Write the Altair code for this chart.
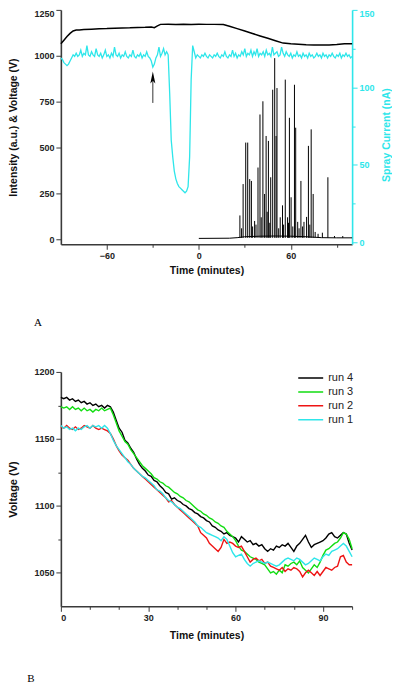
import altair as alt
import pandas as pd

# ---------------- Panel A data ----------------
volt_a_t = [-90, -88, -86, -84, -82, -80, -78, -75, -70, -65, -60, -55, -50, -45, -40,
            -35, -31, -29, -27, -25, -20, -15, -10, -5, 0, 5, 10, 16, 20, 25, 30, 35,
            40, 45, 50, 55, 60, 65, 70, 75, 80, 85, 90, 95, 100]
volt_a_v = [1065, 1085, 1105, 1122, 1135, 1140, 1141, 1143, 1145, 1147, 1148, 1150, 1151, 1152, 1154,
            1155, 1157, 1153, 1163, 1171, 1172, 1171, 1172, 1171, 1172, 1171, 1171, 1170, 1161, 1148, 1135, 1121,
            1108, 1095, 1082, 1069, 1065, 1063, 1060, 1059, 1058, 1059, 1061, 1065, 1066]

cur_start = -90
cur_nA = [
    119, 118, 116, 115, 114, 115, 117, 119, 121, 120,
    122, 120, 121, 124, 120, 122, 121, 127, 121, 120,
    123, 121, 120, 125, 121, 120, 122, 119, 121, 124,
    120, 121, 119, 122, 120, 126, 121, 120, 122, 119,
    121, 120, 123, 120, 119, 121, 120, 124, 120, 119,
    121, 120, 122, 119, 121, 120, 123, 120, 119, 117,
    113, 115, 119, 121, 126, 120, 122, 125, 121, 123,
    121, 96, 66, 55, 46, 41, 38, 36, 35, 34,
    33, 32, 33, 36, 55, 105, 127, 123, 119, 121,
    120, 119, 121, 120, 122, 120, 119, 121, 120, 119,
    121, 120, 122, 120, 119, 121, 120, 123, 120, 119,
    121, 120, 124, 120, 122, 119, 121, 120, 123, 121,
    125, 120, 122, 121, 124, 120, 123, 121, 125, 120,
    122, 121, 123, 120, 124, 121, 122, 120, 126, 121,
    122, 123, 120, 121, 126, 122, 120, 123, 121, 120,
    122, 119, 121, 120, 123, 120, 121, 119, 122, 120,
    121, 119, 122, 120, 121, 119, 120, 122, 120, 121,
    119, 122, 120, 121, 119, 121, 120, 122, 120, 119,
    121, 120, 122, 119, 121, 120, 122, 120, 121, 119,
    120,
]
cur_t = list(range(cur_start, cur_start + len(cur_nA)))

spike_t = [26.8, 27.9, 28.9, 30.6, 31.9, 33.2, 34.3, 35.1, 36.4, 37.3, 38.6, 39.9, 40.7,
           41.8, 42.9, 43.9, 44.6, 45.4, 46.3, 46.9, 48.2, 49.5, 50.4, 51.0, 52.1, 53.1,
           54.6, 55.3, 56.4, 57.9, 58.5, 59.1, 60.2, 61.3, 62.4, 63.2, 64.5, 65.4, 66.6,
           67.7, 68.6, 70.3, 71.5, 72.4, 73.3, 74.6, 75.9, 77.8, 80.6, 84.2, 88.5, 93.9]
spike_h = [130, 60, 301, 527, 527, 328, 318, 70, 100, 80, 391, 680, 120,
           752, 247, 563, 150, 536, 90, 338, 815, 987, 563, 824, 60, 120,
           185, 80, 870, 120, 90, 662, 229, 70, 842, 608, 95, 60, 318,
           70, 95, 122, 509, 80, 599, 247, 40, 30, 36, 338, 18, 18]
spike_base = 8

base_t = [0, 20, 25, 30, 40, 50, 60, 70, 76, 80, 90, 100]
base_v = [5, 6, 9, 14, 17, 18, 17, 14, 11, 9, 8, 8]

arrow_t = [-30]
arrow_from = [743]
arrow_to = [882]

# ---------------- Panel B data ----------------
run_names = ["run 4", "run 3", "run 2", "run 1"]
run_colors = ["#000000", "#11DD11", "#EE1414", "#2EE6EA"]
run_t0 = 0
run4 = [1181, 1180, 1181, 1179, 1180, 1178, 1179, 1177, 1178, 1176,
        1177, 1175, 1176, 1174, 1175, 1173, 1175, 1174, 1170, 1164,
        1158, 1155, 1149, 1147, 1143, 1140, 1135, 1131, 1128, 1126,
        1123, 1122, 1119, 1118, 1115, 1113, 1110, 1109, 1105, 1106,
        1104, 1103, 1101, 1100, 1098, 1097, 1095, 1094, 1092, 1091,
        1089, 1088, 1085, 1084, 1082, 1081, 1079, 1080, 1078, 1077,
        1076, 1073, 1077, 1075, 1073, 1074, 1071, 1072, 1070, 1071,
        1068, 1066, 1068, 1067, 1070, 1069, 1071, 1070, 1072, 1069,
        1066, 1070, 1072, 1075, 1078, 1073, 1069, 1071, 1072, 1073,
        1074, 1076, 1079, 1080, 1077, 1076, 1078, 1080, 1079, 1072,
        1067]
run3 = [1174, 1173, 1174, 1172, 1174, 1172, 1173, 1171, 1173, 1171,
        1172, 1170, 1172, 1171, 1173, 1171, 1172, 1173, 1168, 1162,
        1156, 1152, 1148, 1146, 1142, 1139, 1136, 1133, 1130, 1128,
        1126, 1124, 1121, 1120, 1118, 1117, 1115, 1114, 1112, 1110,
        1109, 1107, 1106, 1104, 1103, 1101, 1099, 1097, 1096, 1094,
        1093, 1091, 1090, 1088, 1087, 1085, 1084, 1081, 1079, 1077,
        1074, 1070, 1067, 1066, 1064, 1062, 1061, 1060, 1058, 1057,
        1056, 1053, 1050, 1051, 1049, 1052, 1050, 1056, 1055, 1057,
        1058, 1056, 1059, 1054, 1052, 1050, 1053, 1056, 1054, 1058,
        1063, 1067, 1068, 1070, 1072, 1073, 1076, 1080, 1079, 1075,
        1068]
run2 = [1159, 1158, 1160, 1158, 1157, 1159, 1157, 1158, 1160, 1159,
        1158, 1160, 1158, 1157, 1158, 1157, 1156, 1154, 1150, 1145,
        1141, 1138, 1136, 1134, 1131, 1128, 1126, 1124, 1122, 1120,
        1118, 1116, 1114, 1112, 1110, 1108, 1106, 1103, 1104, 1101,
        1099, 1097, 1095, 1093, 1091, 1089, 1087, 1085, 1080, 1078,
        1076, 1072, 1070, 1068, 1066, 1069, 1075, 1072, 1073, 1072,
        1070, 1069, 1070, 1066, 1062, 1058, 1060, 1061, 1059, 1060,
        1057, 1058, 1055, 1054, 1053, 1052, 1054, 1051, 1053, 1052,
        1054, 1053, 1051, 1047, 1050, 1052, 1050, 1048, 1051, 1048,
        1051, 1054, 1053, 1052, 1054, 1055, 1062, 1063, 1058, 1056,
        1056]
run1 = [1160, 1158, 1159, 1157, 1158, 1156, 1158, 1157, 1159, 1160,
        1158, 1160, 1159, 1160, 1158, 1160, 1158, 1154, 1149, 1145,
        1142, 1139, 1136, 1133, 1131, 1128, 1126, 1124, 1122, 1121,
        1119, 1117, 1115, 1112, 1111, 1109, 1106, 1104, 1103, 1101,
        1099, 1098, 1096, 1094, 1092, 1090, 1088, 1085, 1084, 1082,
        1080, 1079, 1078, 1077, 1076, 1074, 1077, 1075, 1070, 1065,
        1062, 1063, 1064, 1060, 1057, 1055, 1057, 1058, 1059, 1058,
        1057, 1058, 1057, 1056, 1055, 1056, 1058, 1060, 1061, 1060,
        1059, 1061, 1060, 1058, 1056, 1057, 1059, 1061, 1060, 1059,
        1062, 1064, 1063, 1066, 1067, 1068, 1070, 1072, 1070, 1066,
        1062]

# ---------------- styling ----------------
FONT = "Liberation Sans"
SERIF = "Liberation Serif"
AXC = "#3a3a3a"
CYAN = "#2EE6EA"


def cond_tick(mod):
    return {"condition": {"test": f"datum.value % {mod} === 0", "value": 5}, "value": 3}


def label_expr(mod):
    return f"datum.value % {mod} === 0 ? datum.label : ''"


# ---------------- Panel A ----------------
volt_df = pd.DataFrame({"t": volt_a_t, "y": volt_a_v})
cur_df = pd.DataFrame({"t": cur_t, "c": cur_nA})
spk_df = pd.DataFrame({"t": spike_t, "y": [spike_base] * len(spike_t), "y2": spike_h})
base_df = pd.DataFrame({"t": base_t, "y": base_v})
arr_df = pd.DataFrame({"t": arrow_t, "y": arrow_from, "y2": arrow_to})
lab_a = pd.DataFrame({"lab": ["A"]})

xA = alt.X(
    "t:Q",
    scale=alt.Scale(domain=[-90, 100], nice=False, zero=False),
    axis=alt.Axis(
        values=[-60, -30, 0, 30, 60, 90],
        format="d",
        labelExpr=label_expr(60),
        tickSize=cond_tick(60),
        title="Time (minutes)",
        titleY=21,
    ),
)
yL_scale = alt.Scale(domain=[-27, 1250], nice=False, zero=False)
yL_axis = alt.Axis(
    values=[0, 250, 500, 750, 1000, 1250],
    format="d",
    tickSize=5,
    title="Intensity (a.u.) & Voltage (V)",
    titleX=-47,
    titleBaseline="middle",
    labelBaseline={"condition": {"test": "datum.value === 1250", "value": "top"}, "value": "middle"},
)
yL = alt.Y("y:Q", scale=yL_scale, axis=yL_axis)

volt_line = alt.Chart(volt_df).mark_line(color="black", strokeWidth=1.5).encode(x=xA, y=yL)
base_line = alt.Chart(base_df).mark_line(color="black", strokeWidth=1).encode(x=xA, y=yL)
spikes = alt.Chart(spk_df).mark_rule(color="black", strokeWidth=1).encode(x=xA, y=yL, y2="y2:Q")
arrow_shaft = alt.Chart(arr_df).mark_rule(color="black", strokeWidth=0.8).encode(x=xA, y=yL, y2="y2:Q")
arrow_head = alt.Chart(arr_df).mark_point(
    shape="M0,-1L0.42,1L0,0.55L-0.42,1Z", filled=True, color="black", size=144, opacity=1
).encode(x=xA, y=alt.Y("y2:Q", scale=yL_scale, axis=yL_axis))
text_a = alt.Chart(lab_a).mark_text(font=SERIF, fontSize=11, color="black").encode(
    x=alt.value(-23), y=alt.value(314), text="lab:N"
)

left_A = alt.layer(volt_line, base_line, spikes, arrow_shaft, arrow_head, text_a)

cur_line = alt.Chart(cur_df).mark_line(color=CYAN, strokeWidth=1.3).encode(
    x=xA,
    y=alt.Y(
        "c:Q",
        scale=alt.Scale(domain=[-1.2, 150], nice=False, zero=False),
        axis=alt.Axis(
            orient="right",
            values=[0, 25, 50, 75, 100, 125, 150],
            format="d",
            labelExpr=label_expr(50),
            tickSize=cond_tick(50),
            title="Spray Current (nA)",
            titleAngle=270,
            titleBaseline="middle",
            titleX=34,
            titleY=125,
            domainColor=CYAN,
            tickColor=CYAN,
            labelColor=CYAN,
            titleColor=CYAN,
            labelBaseline={"condition": {"test": "datum.value === 150", "value": "top"}, "value": "middle"},
        ),
    ),
)

top = alt.layer(left_A, cur_line).resolve_scale(y="independent").properties(width=292, height=235)

# ---------------- Panel B ----------------
rows = []
for name, vals in zip(run_names, [run4, run3, run2, run1]):
    for i, v in enumerate(vals):
        rows.append({"t": run_t0 + i, "v": v, "run": name})
runs_df = pd.DataFrame(rows)
lab_b = pd.DataFrame({"lab": ["B"]})

xB = alt.X(
    "t:Q",
    scale=alt.Scale(domain=[0, 100], nice=False, zero=False),
    axis=alt.Axis(
        values=list(range(0, 101, 10)),
        format="d",
        labelExpr=label_expr(30),
        tickSize=cond_tick(30),
        title="Time (minutes)",
        titleY=24,
    ),
)
yB = alt.Y(
    "v:Q",
    scale=alt.Scale(domain=[1025, 1200], nice=False, zero=False),
    axis=alt.Axis(
        values=[1050, 1075, 1100, 1125, 1150, 1175, 1200],
        format="d",
        labelExpr=label_expr(50),
        tickSize=cond_tick(50),
        title="Voltage (V)",
        titleX=-47,
        titleBaseline="middle",
        titleFontSize=11,
    ),
)

runs = alt.Chart(runs_df).mark_line(strokeWidth=1.4).encode(
    x=xB,
    y=yB,
    color=alt.Color(
        "run:N",
        sort=run_names,
        scale=alt.Scale(domain=run_names, range=run_colors),
        legend=alt.Legend(
            title=None,
            orient="none",
            legendX=237,
            legendY=362,
            symbolType="stroke",
            symbolSize=625,
            symbolStrokeWidth=1.5,
            clipHeight=14,
            rowPadding=0,
            padding=0,
            labelOffset=4,
            labelFont=FONT,
            labelFontSize=11,
            labelFontWeight="normal",
            labelColor="#222222",
        ),
    ),
)
text_b = alt.Chart(lab_b).mark_text(font=SERIF, fontSize=11, color="black").encode(
    x=alt.value(-30), y=alt.value(308), text="lab:N"
)
bottom = alt.layer(runs, text_b).properties(width=292, height=235)

chart = (
    alt.vconcat(top, bottom, spacing=128, bounds="flush")
    .properties(padding=0, background="white")
    .configure_view(stroke=None)
    .configure_axis(
        grid=False,
        domainColor=AXC,
        domainWidth=1.6,
        tickColor=AXC,
        tickWidth=1,
        labelFont=FONT,
        labelFontSize=9,
        labelFontWeight="bold",
        labelColor="#222222",
        labelPadding=2,
        titleFont=FONT,
        titleFontSize=10.5,
        titleFontWeight="bold",
        titleColor="#111111",
    )
)

chart.save("out.html", embed_options={"renderer": "svg", "actions": False})
